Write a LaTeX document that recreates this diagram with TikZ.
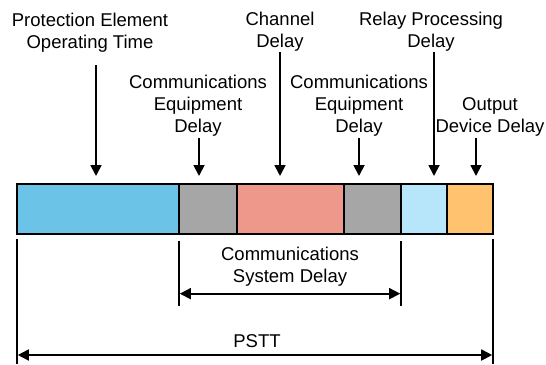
\documentclass[tikz,border=0pt]{standalone}
\usepackage{fontspec}
\setmainfont{Liberation Sans}
\usepackage{tikz}
\usetikzlibrary{arrows.meta}
\usetikzlibrary{positioning}
\definecolor{segBlue}{RGB}{108,195,232}
\definecolor{segGray}{RGB}{166,166,166}
\definecolor{segRed}{RGB}{237,152,138}
\definecolor{segLight}{RGB}{183,230,251}
\definecolor{segOrange}{RGB}{255,195,112}
\tikzset{
	seg/.style={draw,line width=1.8bp,minimum height=50bp,inner sep=0pt,outer sep=0pt},
	lbl/.style={align=center,inner sep=0pt,font=\fontsize{18.5bp}{22bp}\selectfont},
	arr/.style={line width=1.8bp,-{Triangle[length=11bp,width=11bp]}},
	dim/.style={line width=1.8bp,{Triangle[length=11bp,width=11bp]}-{Triangle[length=11bp,width=11bp]}},
	tick/.style={line width=1.5bp}
}

\begin{document}
\begin{tikzpicture}[x=1bp,y=-1bp]
	\useasboundingbox (0,0) rectangle (546,364);
	% the bar
	\node [seg,fill=segBlue,minimum width=162bp,anchor=north west] (pe) at (17,184) {};
	\node [seg,fill=segGray,minimum width=58bp,right=0pt of pe] (ce1) {};
	\node [seg,fill=segRed,minimum width=107bp,right=0pt of ce1] (ch) {};
	\node [seg,fill=segGray,minimum width=57bp,right=0pt of ch] (ce2) {};
	\node [seg,fill=segLight,minimum width=46bp,right=0pt of ce2] (rp) {};
	\node [seg,fill=segOrange,minimum width=46bp,right=0pt of rp] (od) {};
	% labels above
	\node [lbl] (lpe) at (90,32.75) {Protection Element\\Operating Time};
	\node [lbl] (lce1) at (198,105.75) {Communications\\Equipment\\Delay};
	\node [lbl] (lch) at (280,31.75) {Channel\\Delay};
	\node [lbl] (lce2) at (359,105.75) {Communications\\Equipment\\Delay};
	\node [lbl] (lrp) at (431,31.75) {Relay Processing\\Delay};
	\node [lbl] (lod) at (490,116.75) {Output\\Device Delay};
	\coordinate (tpe) at (96,176);
	\coordinate (tce1) at (199,176);
	\coordinate (tch) at (280,176);
	\coordinate (tce2) at (359,176);
	\coordinate (trp) at (434,176);
	\coordinate (tod) at (476,176);
	\draw [arr,shorten <=12.6bp] (lpe.south -| tpe) -- (tpe);
	\draw [arr,shorten <=1.6bp] (lce1.south -| tce1) -- (tce1);
	\draw [arr,shorten <=0.6bp] (lch.south -| tch) -- (tch);
	\draw [arr,shorten <=1.6bp] (lce2.south -| tce2) -- (tce2);
	\draw [arr,shorten <=0.6bp] (lrp.south -| trp) -- (trp);
	\draw [arr,shorten <=1.6bp] (lod.south -| tod) -- (tod);
	% ticks below
	\draw [tick] ([yshift=-5bp]pe.south west) -- ++(0,125);
	\draw [tick] ([yshift=-7bp]pe.south east) -- ++(0,65) coordinate[pos=0.81] (csL);
	\draw [tick] ([yshift=-7bp]ce2.south east) -- ++(0,65) coordinate[pos=0.81] (csR);
	\draw [tick] ([yshift=-5bp]od.south east) -- ++(0,125);
	\coordinate (psL) at ([yshift=-121bp]pe.south west);
	\coordinate (psR) at ([yshift=-121bp]od.south east);
	\draw [dim,shorten <=0.8bp,shorten >=0.8bp] (csL) -- (csR) node [lbl,midway,above=6.4bp] (lcs) {Communications\\System Delay};
	\draw [dim,shorten <=0.8bp,shorten >=0.8bp] (psL) -- (psR) node [lbl,midway,above=6.5bp,xshift=2bp] (lps) {PSTT};
\end{tikzpicture}
\end{document}
